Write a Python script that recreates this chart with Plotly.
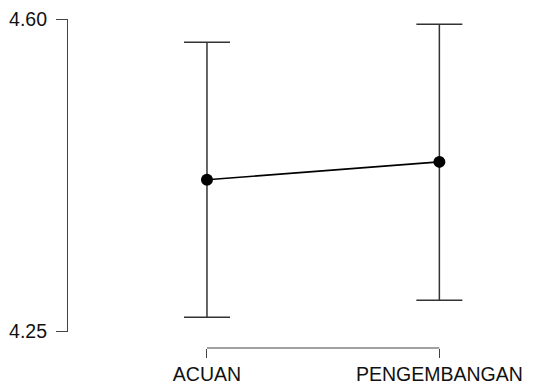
import plotly.graph_objects as go

categories = ["ACUAN", "PENGEMBANGAN"]
means = [4.420, 4.440]
ci_lower = [4.266, 4.285]
ci_upper = [4.574, 4.594]
y_ticks = [4.25, 4.60]

err_plus = [u - m for u, m in zip(ci_upper, means)]
err_minus = [m - l for m, l in zip(means, ci_lower)]

fig = go.Figure()
fig.add_trace(go.Scatter(
    x=categories, y=means, mode="lines+markers",
    line=dict(color="black", width=1.6),
    marker=dict(color="black", size=12),
    error_y=dict(type="data", symmetric=False, array=err_plus, arrayminus=err_minus,
                 color="#333333", thickness=1.5, width=23),
    showlegend=False, hoverinfo="skip",
))

# x-axis range-frame line between the two categories
fig.add_shape(type="line", xref="x", yref="paper", x0=0, x1=1, y0=0, y1=0,
              line=dict(color="#444444", width=1.2))

font = dict(family="Liberation Sans, Arial, sans-serif", size=19.5, color="#111111")

fig.update_layout(
    width=540, height=385,
    margin=dict(l=68, r=10, t=19, b=37, autoexpand=False),
    paper_bgcolor="white", plot_bgcolor="white",
    font=font,
    xaxis=dict(range=[-0.598, 1.390], showgrid=False, zeroline=False, showline=False,
               ticks="outside", ticklen=9, tickwidth=1.2, tickcolor="#444444",
               anchor="free", position=0, tickfont=font, automargin=False),
    yaxis=dict(range=[4.25, 4.60], domain=[0.050, 1], showgrid=False, zeroline=False,
               showline=True, linecolor="#444444", linewidth=1.2,
               ticks="outside", ticklen=11, tickwidth=1.2, tickcolor="#444444",
               tickvals=y_ticks, tickformat=".2f", ticklabelstandoff=5, tickfont=font,
               automargin=False),
)

fig.write_html("out.html", config={"displayModeBar": False},
               post_script="document.body.style.margin='0';document.body.style.overflow='hidden';")
